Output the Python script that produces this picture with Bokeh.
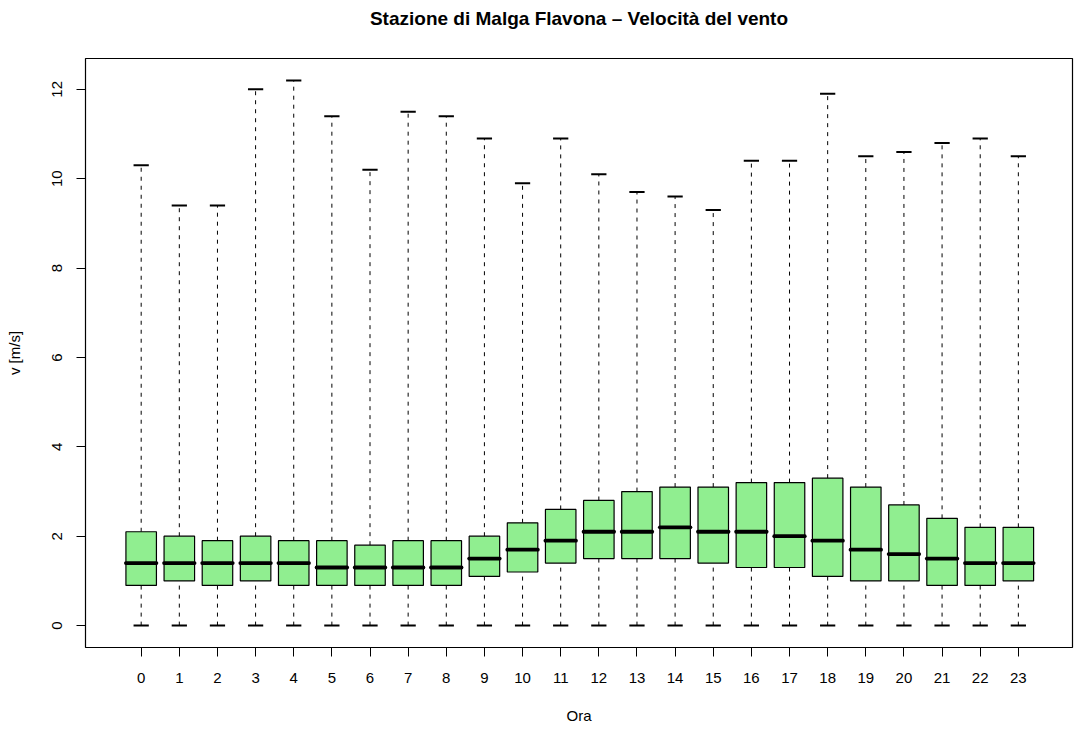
from bokeh.plotting import figure
from bokeh.models import ColumnDataSource, Range1d, FixedTicker, Title
from bokeh.embed import file_html
from bokeh.resources import INLINE

# ---- data ----
hours = [0, 1, 2, 3, 4, 5, 6, 7, 8, 9, 10, 11, 12, 13, 14, 15, 16, 17, 18, 19, 20, 21, 22, 23]
tick_labels = [str(h) for h in hours]
whisk_lo = [0, 0, 0, 0, 0, 0, 0, 0, 0, 0, 0, 0, 0, 0, 0, 0, 0, 0, 0, 0, 0, 0, 0, 0]
q1 = [0.9, 1.0, 0.9, 1.0, 0.9, 0.9, 0.9, 0.9, 0.9, 1.1, 1.2, 1.4,
      1.5, 1.5, 1.5, 1.4, 1.3, 1.3, 1.1, 1.0, 1.0, 0.9, 0.9, 1.0]
median = [1.4, 1.4, 1.4, 1.4, 1.4, 1.3, 1.3, 1.3, 1.3, 1.5, 1.7, 1.9,
          2.1, 2.1, 2.2, 2.1, 2.1, 2.0, 1.9, 1.7, 1.6, 1.5, 1.4, 1.4]
q3 = [2.1, 2.0, 1.9, 2.0, 1.9, 1.9, 1.8, 1.9, 1.9, 2.0, 2.3, 2.6,
      2.8, 3.0, 3.1, 3.1, 3.2, 3.2, 3.3, 3.1, 2.7, 2.4, 2.2, 2.2]
whisk_hi = [10.3, 9.4, 9.4, 12.0, 12.2, 11.4, 10.2, 11.5, 11.4, 10.9, 9.9, 10.9,
            10.1, 9.7, 9.6, 9.3, 10.4, 10.4, 11.9, 10.5, 10.6, 10.8, 10.9, 10.5]
y_ticks = [0, 2, 4, 6, 8, 10, 12]

title_text = "Stazione di Malga Flavona \u2013 Velocit\u00e0 del vento"
x_label = "Ora"
y_label = "v [m/s]"

# ---- styles ----
FONT = "Liberation Sans"
BOX_FILL = "#90EE90"
BOX_W = 0.8
CAP_W = 0.4
X0, X1 = -1.46, 24.42
Y0, Y1 = -0.49, 12.69

src = ColumnDataSource(dict(
    x=hours,
    left=[h - BOX_W / 2 for h in hours],
    right=[h + BOX_W / 2 for h in hours],
    cl=[h - CAP_W / 2 for h in hours],
    cr=[h + CAP_W / 2 for h in hours],
    lo=whisk_lo, q1=q1, med=median, q3=q3, hi=whisk_hi,
))

p = figure(
    width=1074, height=734,
    x_range=Range1d(X0, X1), y_range=Range1d(Y0, Y1),
    output_backend="svg", toolbar_location=None,
    min_border_left=85, min_border_right=2, min_border_top=58, min_border_bottom=87,
)

# spacer between frame and title (inner), then the real title (outer)
spacer = Title(text=" ", text_font=FONT, text_font_size="19px", standoff=1)
p.add_layout(spacer, "above")
main_title = Title(text=title_text, align="center", text_font=FONT,
                   text_font_size="19px", text_font_style="bold",
                   text_color="black", standoff=11)
p.add_layout(main_title, "above")

p.background_fill_color = "white"
p.border_fill_color = "white"
p.outline_line_color = "black"
p.outline_line_width = 1.2
p.xgrid.visible = False
p.ygrid.visible = False

# whiskers (dashed)
p.segment(x0="x", y0="q3", x1="x", y1="hi", source=src, line_color="black",
          line_width=1, line_dash="4 5")
p.segment(x0="x", y0="lo", x1="x", y1="q1", source=src, line_color="black",
          line_width=1, line_dash="4 5")
# caps
p.segment(x0="cl", y0="hi", x1="cr", y1="hi", source=src, line_color="black", line_width=2)
p.segment(x0="cl", y0="lo", x1="cr", y1="lo", source=src, line_color="black", line_width=2)
# boxes
p.quad(left="left", right="right", bottom="q1", top="q3", source=src,
       fill_color=BOX_FILL, line_color="black", line_width=1.2)
# medians
p.segment(x0="left", y0="med", x1="right", y1="med", source=src, line_color="black",
          line_width=3.8, line_cap="round")

# axes
xa = p.xaxis[0]
xa.ticker = FixedTicker(ticks=hours)
xa.major_label_overrides = {h: lab for h, lab in zip(hours, tick_labels)}
ya = p.yaxis[0]
ya.ticker = FixedTicker(ticks=y_ticks)
ya.major_label_orientation = "vertical"

for ax in (xa, ya):
    ax.axis_line_color = None
    ax.major_tick_line_color = "black"
    ax.major_tick_line_width = 1
    ax.major_tick_out = 9
    ax.major_tick_in = 0
    ax.minor_tick_line_color = None
    ax.major_label_text_font = FONT
    ax.major_label_text_font_size = "15px"
    ax.major_label_text_color = "black"
    ax.axis_label_text_font = FONT
    ax.axis_label_text_font_size = "15px"
    ax.axis_label_text_font_style = "normal"
    ax.axis_label_text_color = "black"

xa.axis_label = x_label
xa.major_label_standoff = 16
xa.axis_label_standoff = 21
ya.axis_label = y_label
ya.major_label_standoff = 14
ya.axis_label_standoff = 27

open("out.html", "w").write(file_html(p, INLINE))
